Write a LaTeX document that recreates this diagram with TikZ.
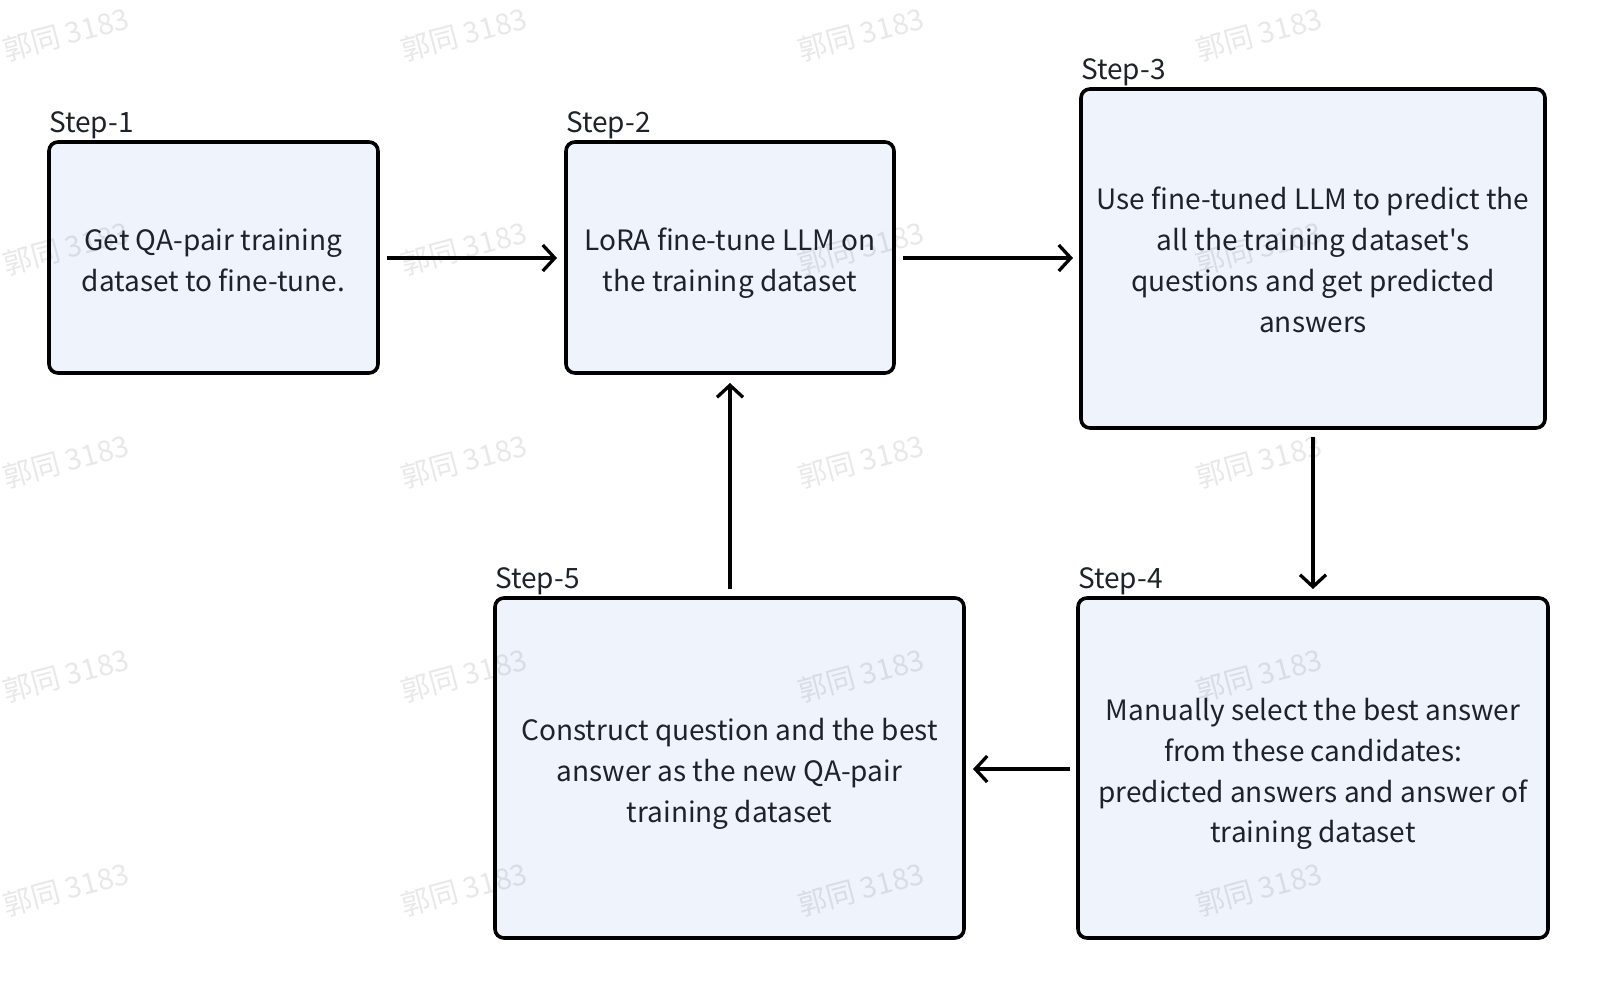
\documentclass[tikz,border=0pt]{standalone}
\usepackage{fontspec}
\setmainfont{Noto Sans CJK SC}[Ligatures=TeXOff]
\usetikzlibrary{arrows.meta}
\definecolor{boxfill}{HTML}{EEF3FC}
\definecolor{txt}{HTML}{1F2329}
\definecolor{wm}{HTML}{000000}
\begin{document}
\begin{tikzpicture}[x=1pt,y=-1pt,
  stepbox/.style={draw=black,line width=3.6pt,fill=boxfill,rounded corners=9pt},
  boxtext/.style={align=center,text=txt,font=\fontsize{28}{40.8}\selectfont,inner sep=0pt},
  steplabel/.style={anchor=base west,text=txt,font=\fontsize{28}{32}\selectfont,inner sep=0pt},
  conn/.style={line width=3.3pt,-{Straight Barb[length=12pt,width=26pt,line width=3.3pt]},draw=black},
  wmark/.style={text=wm,opacity=0.09,rotate=15,font=\fontsize{29}{32}\selectfont,inner sep=0pt}]
\useasboundingbox[fill=white] (0,0) rectangle (1598,990);

% boxes
\path[stepbox] (49,142) rectangle (378,373);
\path[stepbox] (566,142) rectangle (894,373);
\path[stepbox] (1081,89) rectangle (1545,428);
\path[stepbox] (1078,598) rectangle (1548,938);
\path[stepbox] (495,598) rectangle (964,938);

\node[boxtext] (t1) at (213.5,260) {Get QA-pair training\\dataset to fine-tune.};
\node[boxtext] (t2) at (730,263) {LoRA fine-tune LLM on\\the training dataset};
\node[boxtext] (t3) at (1313,260) {Use fine-tuned LLM to predict the\\all the training dataset's\\questions and get predicted\\answers};
\node[boxtext] (t4) at (1313,774) {Manually select the best answer\\from these candidates:\\predicted answers and answer of\\training dataset};
\node[boxtext] (t5) at (729.5,774) {Construct question and the best\\answer as the new QA-pair\\training dataset};

\node[steplabel] (s1) at (49,132) {Step-1};
\node[steplabel] (s2) at (566,132) {Step-2};
\node[steplabel] (s3) at (1081,80) {Step-3};
\node[steplabel] (s4) at (1078,588) {Step-4};
\node[steplabel] (s5) at (495,588) {Step-5};

\coordinate (a1s) at (387,258); \coordinate (a1e) at (557,258);
\coordinate (a2s) at (903,258); \coordinate (a2e) at (1073,258);
\coordinate (a3s) at (1313,437); \coordinate (a3e) at (1313,589);
\coordinate (a4s) at (1070,769); \coordinate (a4e) at (973,769);
\coordinate (a5s) at (730,589); \coordinate (a5e) at (730,383);
\draw[conn] (a1s) -- (a1e);
\draw[conn] (a2s) -- (a2e);
\draw[conn] (a3s) -- (a3e);
\draw[conn] (a4s) -- (a4e);
\draw[conn] (a5s) -- (a5e);

% watermark
\foreach \wx in {66,464,861,1259}{
  \foreach \wy in {34,248,461,675,889}{
    \node[wmark] at (\wx,\wy) {郭同 3183};
  }
}
\end{tikzpicture}
\end{document}
